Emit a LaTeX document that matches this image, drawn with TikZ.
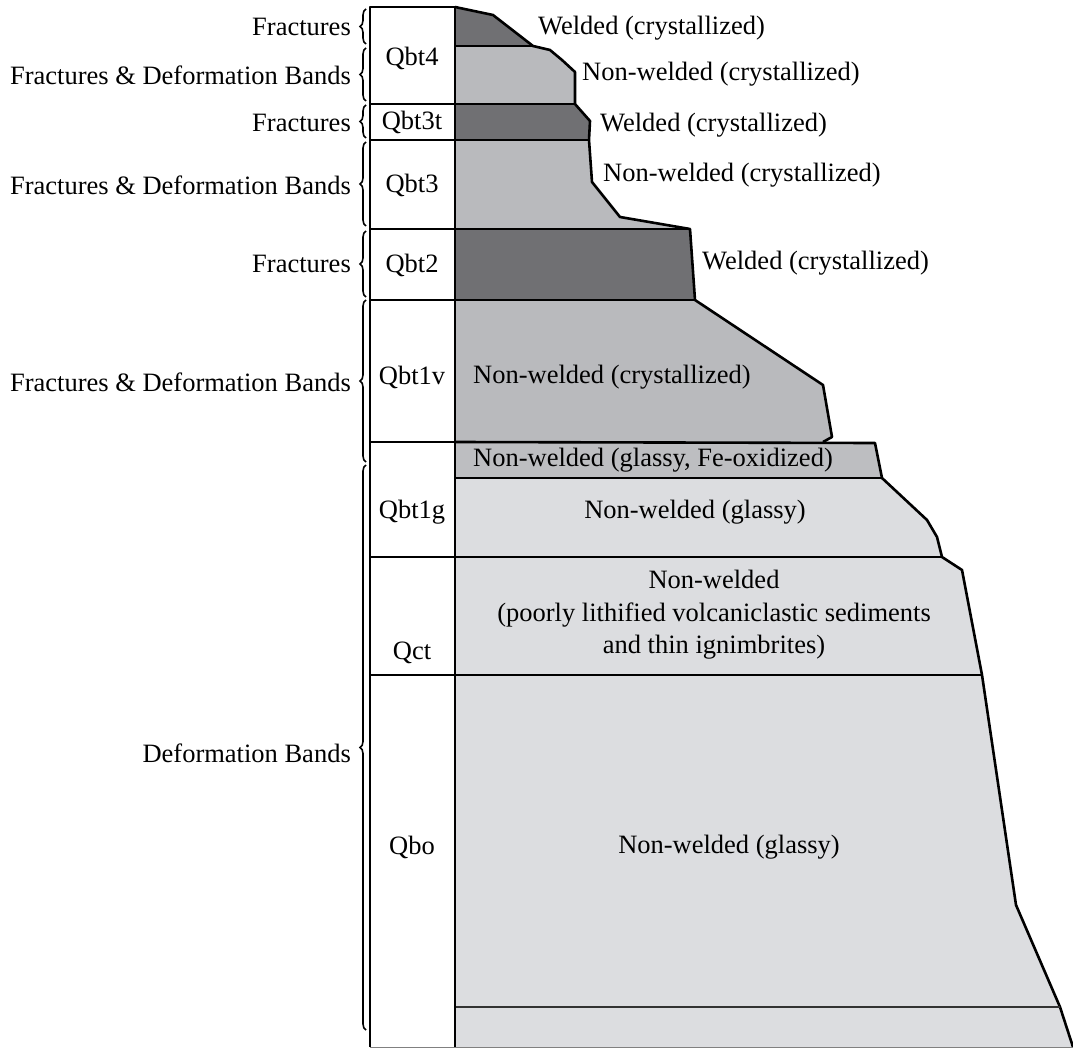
\documentclass[tikz,border=0pt]{standalone}
\usepackage{fontspec}
\setmainfont{Liberation Serif}
\usepackage{tikz}
\usetikzlibrary{decorations.pathreplacing}
\definecolor{welded}{HTML}{707073}
\definecolor{crystal}{HTML}{B9BABD}
\definecolor{feox}{HTML}{BDBEC1}
\definecolor{glassy}{HTML}{DCDDE0}

\begin{document}
\begin{tikzpicture}[x=1pt,y=-1pt,
  rock/.style={draw=black,line width=2.6pt,line join=round},
  txt/.style={font=\fontsize{26.5}{32.5}\selectfont,inner sep=0pt},
  brc/.style={decorate,decoration={brace,amplitude=6pt},line width=1.6pt}]
  \useasboundingbox (0,0) rectangle (1073,1048);
  % rock profile
  \fill[welded] (455,7) -- (493,15) -- (533,46) -- (455,46) -- cycle;
  \fill[crystal] (455,46) -- (533,46) -- (550,50) -- (562,60) -- (575,72) -- (575,104) -- (455,104) -- cycle;
  \fill[welded] (455,104) -- (575,104) -- (590,121) -- (589,140) -- (455,140) -- cycle;
  \fill[crystal] (455,140) -- (589,140) -- (592,182) -- (620,217) -- (690,229) -- (455,229) -- cycle;
  \fill[welded] (455,229) -- (690,229) -- (695,300) -- (455,300) -- cycle;
  \fill[crystal] (455,300) -- (695,300) -- (823,385) -- (832,437) -- (823,442) -- (455,442) -- cycle;
  \fill[feox] (455,442) -- (875,443) -- (882,478) -- (455,478) -- cycle;
  \fill[glassy] (455,478) -- (882,478) -- (927,520) -- (937,537) -- (942,557) -- (455,557) -- cycle;
  \fill[glassy] (455,557) -- (942,557) -- (962,570) -- (982,675) -- (455,675) -- cycle;
  \fill[glassy] (455,675) -- (982,675) -- (1016,905) -- (1060,1007) -- (1073,1047) -- (455,1047) -- cycle;
  % outlines
  \draw[rock] (455,7) -- (493,15) -- (533,46) -- (550,50) -- (562,60) -- (575,72) -- (575,104)
    -- (590,121) -- (589,140) -- (592,182) -- (620,217) -- (690,229) -- (695,300)
    -- (823,385) -- (832,437) -- (823,442);
  \draw[rock] (455,442) -- (875,443) -- (882,478) -- (927,520) -- (937,537) -- (942,557)
    -- (962,570) -- (982,675) -- (1016,905) -- (1060,1007) -- (1073,1047);
  \draw[rock] (455,46) -- (533,46);
  \draw[rock] (455,478) -- (882,478);
  \draw[rock] (455,557) -- (942,557);
  \draw[rock] (455,675) -- (982,675);
  \draw[rock,draw=black!80] (455,1007) -- (1060,1007);
  \draw[gray,line width=1pt] (370,1047) -- (1073,1047);
  % unit column
  \draw[rock] (370,1047) -- (370,7) -- (455,7) -- (455,1047);
  \draw[rock] (370,104) -- (575,104);
  \draw[rock] (370,140) -- (589,140);
  \draw[rock] (370,229) -- (690,229);
  \draw[rock] (370,300) -- (695,300);
  \draw[rock] (370,442) -- (455,442);
  \draw[rock] (370,675) -- (455,675);
  \draw[rock] (370,557) -- (455,557);
  \node[txt] (qbt4) at (412,58) {Qbt4};
  \node[txt] (qbt3t) at (412,122) {Qbt3t};
  \node[txt] (qbt3) at (412,185) {Qbt3};
  \node[txt] (qbt2) at (412,265) {Qbt2};
  \node[txt] (qbt1v) at (412,377) {Qbt1v};
  \node[txt] (qbt1g) at (412,512) {Qbt1g};
  \node[txt] (qct) at (412,653) {Qct};
  \node[txt] (qbo) at (412,847) {Qbo};
  % lithology labels
  \node[txt,anchor=west] (wld1) at (538,28) {Welded (crystallized)};
  \node[txt,anchor=west] (nwd1) at (582,74) {Non-welded (crystallized)};
  \node[txt,anchor=west] (wld2) at (600,125) {Welded (crystallized)};
  \node[txt,anchor=west] (nwd2) at (603,175) {Non-welded (crystallized)};
  \node[txt,anchor=west] (wld3) at (702,263) {Welded (crystallized)};
  \node[txt,anchor=west] (nwd3) at (473,377) {Non-welded (crystallized)};
  \node[txt] (feox) at (653,460) {Non-welded (glassy, Fe-oxidized)};
  \node[txt] (gls1) at (695,512) {Non-welded (glassy)};
  \node[txt,align=center] (sed) at (714,615) {Non-welded\\(poorly lithified volcaniclastic sediments\\and thin ignimbrites)};
  \node[txt] (gls2) at (729,847) {Non-welded (glassy)};
  % structures
  \draw[brc] (366,44) -- (366,9);
  \node[txt,anchor=east] (frc1) at (351,27) {Fractures};
  \draw[brc] (366,101) -- (366,48);
  \node[txt,anchor=east] (fdb1) at (351,75) {Fractures \& Deformation Bands};
  \draw[brc] (366,138) -- (366,105);
  \node[txt,anchor=east] (frc2) at (351,123) {Fractures};
  \draw[brc] (366,226) -- (366,142);
  \node[txt,anchor=east] (fdb2) at (351,185) {Fractures \& Deformation Bands};
  \draw[brc] (366,297) -- (366,231);
  \node[txt,anchor=east] (frc3) at (351,264) {Fractures};
  \draw[brc] (366,462) -- (366,300);
  \node[txt,anchor=east] (fdb3) at (351,382) {Fractures \& Deformation Bands};
  \draw[brc] (366,1030) -- (366,465);
  \node[txt,anchor=east] (dfb) at (351,753) {Deformation Bands};
\end{tikzpicture}
\end{document}
